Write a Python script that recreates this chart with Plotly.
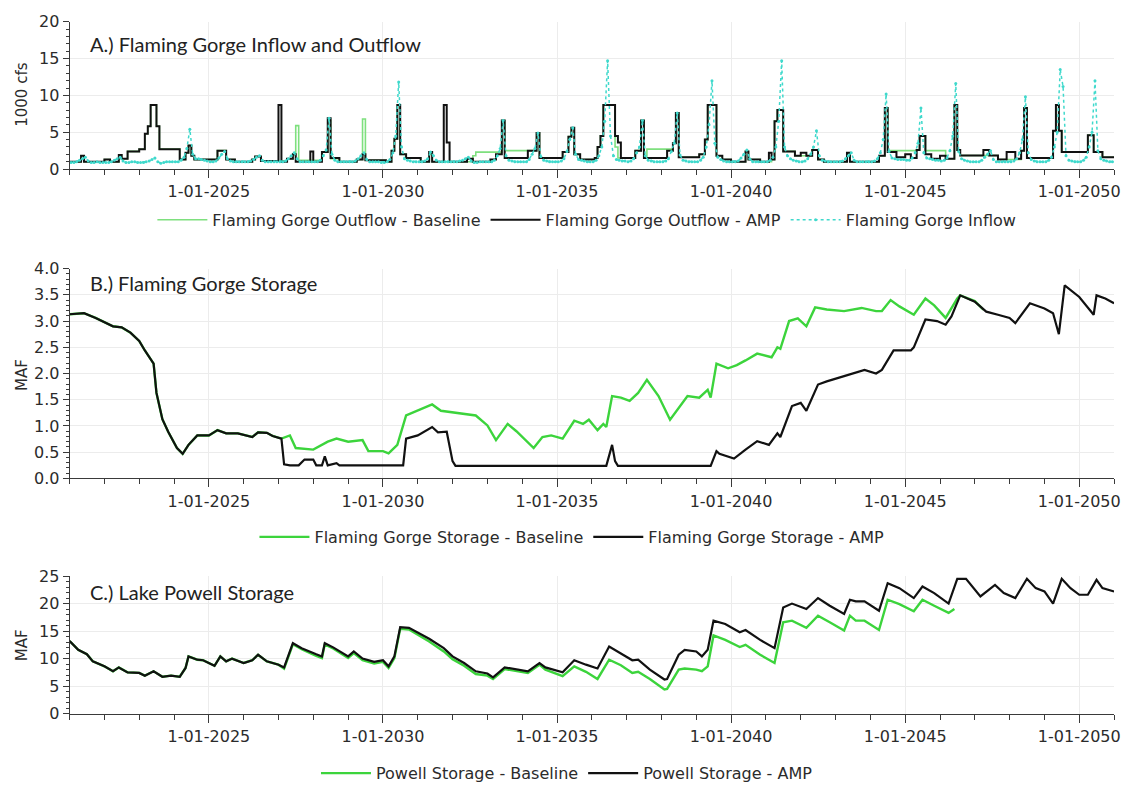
import plotly.graph_objects as go

# ---------------- Panel A data (1000 cfs) ----------------
amp_out_dates = ["2021-01","2021-05","2021-06","2022-01","2022-03","2022-06","2022-07","2022-09","2023-01","2023-03",
    "2023-04","2023-05","2023-07","2023-08","2024-03","2024-05","2024-06","2024-07","2024-08","2025-04",
    "2025-07","2025-10","2026-04","2026-05","2026-07","2027-01","2027-02","2027-04","2027-06","2027-07",
    "2027-12","2028-01","2028-04","2028-06","2028-07","2028-10","2029-04","2029-06","2029-07","2030-02",
    "2030-04","2030-05","2030-06","2030-07","2030-09","2031-02","2031-05","2031-06","2031-10","2031-11",
    "2031-12","2032-06","2032-08","2033-02","2033-04","2033-06","2033-07","2034-03","2034-06","2034-07",
    "2035-03","2035-05","2035-06","2035-07","2035-09","2036-02","2036-03","2036-04","2036-05","2036-09",
    "2036-10","2036-11","2037-04","2037-06","2037-07","2038-03","2038-05","2038-06","2038-07","2039-02",
    "2039-04","2039-05","2039-08","2039-10","2040-01","2040-06","2040-07","2040-11","2041-02","2041-03",
    "2041-04","2041-05","2041-07","2041-11","2042-01","2042-03","2042-05","2042-07","2042-09","2043-05",
    "2043-06","2044-04","2044-06","2044-07","2044-10","2045-01","2045-03","2045-05","2045-06","2045-08",
    "2045-10","2046-01","2046-03","2046-06","2046-07","2046-08","2047-04","2047-06","2047-09","2047-12",
    "2048-03","2048-05","2048-06","2048-07","2049-04","2049-05","2049-06","2049-07","2050-04","2050-06",
    "2050-09","2051-01"]
amp_out_vals = [1.0,1.8,1.0,1.3,1.0,1.9,1.4,2.4,2.7,4.8,
    5.8,8.7,5.8,2.7,1.3,2.2,3.2,1.8,1.3,2.5,
    1.3,1.0,1.3,1.7,1.1,8.7,1.0,1.4,2.0,1.0,
    2.4,1.0,2.3,6.9,1.5,1.0,1.3,2.0,1.2,1.0,
    2.5,4.1,8.7,2.0,1.5,1.0,2.3,1.0,8.7,3.6,
    1.0,1.4,1.0,1.3,2.0,6.6,1.5,2.5,4.9,1.5,
    2.3,4.4,5.6,2.0,1.3,1.5,3.0,4.5,8.7,4.5,
    3.6,1.5,2.5,6.6,1.5,2.5,3.5,7.6,1.6,2.0,
    4.0,8.7,1.8,1.3,1.0,2.4,1.3,1.0,2.2,1.3,
    6.5,8.0,2.4,1.8,2.2,1.8,2.6,1.3,1.0,2.2,
    1.0,1.8,8.3,2.3,1.6,2.0,1.5,2.6,4.5,2.0,
    1.4,1.8,1.4,8.7,2.6,1.85,2.6,1.85,1.3,2.3,
    1.4,2.5,8.3,1.5,5.2,8.7,5.2,2.3,4.6,2.3,
    1.6,1.6]

base_out_dates = ["2021-01","2021-05","2021-06","2022-01","2022-03","2022-06","2022-07","2022-09","2023-01","2023-03",
    "2023-04","2023-05","2023-07","2023-08","2024-03","2024-05","2024-06","2024-07","2024-08","2025-04",
    "2025-07","2025-10","2026-04","2026-05","2026-07","2027-04","2027-06","2027-07","2027-08","2028-04",
    "2028-06","2028-07","2028-10","2029-04","2029-06","2029-07","2030-02","2030-04","2030-05","2030-06",
    "2030-07","2030-09","2031-02","2031-05","2031-06","2032-08","2032-09","2033-04","2033-06","2033-07",
    "2034-03","2034-06","2034-07","2035-03","2035-05","2035-06","2035-07","2035-09","2036-02","2036-03",
    "2036-04","2036-05","2036-09","2036-10","2037-04","2037-06","2037-07","2037-08","2038-05","2038-06",
    "2038-07","2039-02","2039-04","2039-05","2039-08","2039-10","2040-01","2040-06","2040-07","2040-11",
    "2041-03","2041-04","2041-05","2041-07","2041-11","2042-05","2042-07","2042-09","2043-05","2043-06",
    "2044-04","2044-06","2044-07","2045-05","2045-06","2045-08","2046-03","2046-06","2046-07","2046-08",
    "2047-09","2048-05","2048-06","2048-07","2049-04","2049-05","2049-06","2049-07","2050-04","2050-06",
    "2050-09","2051-01"]
base_out_vals = [1.0,1.8,1.0,1.3,1.0,1.9,1.4,2.4,2.7,4.8,
    5.8,8.7,5.8,2.7,1.3,2.2,3.2,1.8,1.3,2.5,
    1.3,1.0,1.3,1.7,1.1,1.4,2.0,5.9,1.2,2.3,
    6.6,1.4,1.0,1.3,6.8,1.2,1.0,2.5,4.1,8.7,
    2.0,1.5,1.0,2.0,1.0,1.8,2.3,2.3,6.6,2.5,
    2.5,4.9,1.5,2.3,4.4,5.6,2.0,1.3,1.5,3.0,
    4.5,8.7,3.0,1.5,2.5,6.6,1.5,2.7,3.5,7.6,
    1.6,2.0,4.0,8.7,1.8,1.3,1.0,2.4,1.3,1.0,
    1.3,6.5,8.0,2.4,1.8,2.6,1.3,1.0,2.2,1.0,
    1.8,8.3,2.5,2.6,4.5,2.5,1.4,8.7,2.6,1.85,
    1.3,2.5,8.3,1.5,5.2,8.7,5.2,2.3,4.6,2.3,
    1.6,1.6]

inflow_years = [2021,2022,2023,2024,2025,2026,2027,2028,2029,2030,
                2031,2032,2033,2034,2035,2036,2037,2038,2039,2040,
                2041,2042,2043,2044,2045,2046,2047,2048,2049,2050]
inflow_monthly = [
    [0.9,0.9,1.0,1.2,1.4,1.6,1.1,0.9,0.9,1.0,0.9,0.9],
    [0.9,0.9,1.0,1.2,1.4,1.6,1.1,0.9,0.9,1.0,1.0,0.9],
    [0.9,0.9,1.0,1.1,1.3,1.5,1.0,0.8,0.9,1.0,1.0,1.0],
    [1.0,1.0,1.2,1.6,2.8,5.4,2.0,1.4,1.4,1.3,1.2,1.1],
    [1.0,1.0,1.1,1.5,2.0,2.4,1.4,1.1,1.0,1.0,1.0,1.0],
    [1.0,1.0,1.1,1.3,1.6,1.8,1.2,1.0,1.0,1.0,1.0,1.0],
    [1.0,1.0,1.1,1.4,1.8,2.2,1.4,1.0,1.0,1.0,1.0,1.0],
    [1.0,1.0,1.2,1.8,2.6,6.9,2.0,1.2,1.0,1.0,1.0,1.0],
    [1.0,1.0,1.1,1.4,1.8,2.2,1.3,1.0,1.0,1.0,1.0,0.9],
    [0.9,1.0,1.3,2.2,4.5,11.8,3.0,1.4,1.2,1.1,1.0,1.0],
    [1.0,1.0,1.1,1.4,2.3,1.8,1.2,1.0,1.0,1.0,1.0,1.0],
    [1.0,1.0,1.1,1.2,1.4,1.6,1.1,0.9,0.9,1.0,1.0,1.0],
    [1.0,1.0,1.2,1.8,2.8,6.6,1.8,1.2,1.1,1.0,1.0,1.0],
    [1.0,1.0,1.3,2.0,2.8,4.9,1.7,1.2,1.1,1.0,1.0,1.0],
    [1.0,1.1,1.4,2.4,4.0,5.6,2.0,1.3,1.2,1.1,1.0,1.0],
    [1.0,1.2,1.8,3.0,6.5,14.7,4.5,1.8,1.3,1.2,1.1,1.1],
    [1.0,1.1,1.4,2.2,3.0,6.6,1.8,1.2,1.1,1.0,1.0,1.0],
    [1.0,1.1,1.4,2.4,3.5,7.6,1.9,1.2,1.1,1.0,1.0,1.0],
    [1.0,1.2,1.6,3.0,6.0,12.0,3.5,1.6,1.3,1.1,1.0,1.0],
    [1.0,1.0,1.1,1.5,2.0,2.6,1.4,1.0,1.0,1.0,1.0,1.0],
    [1.0,1.2,1.6,3.0,6.5,14.7,3.0,1.8,1.4,1.2,1.1,1.0],
    [1.0,1.1,1.4,2.0,3.0,5.2,1.8,1.2,1.1,1.0,1.0,1.0],
    [1.0,1.0,1.1,1.4,1.8,2.2,1.2,1.0,1.0,1.0,1.0,1.0],
    [1.0,1.1,1.4,2.2,4.0,10.2,2.4,1.5,1.4,1.3,1.3,1.3],
    [1.2,1.2,1.5,2.2,3.5,8.3,2.2,1.5,1.4,1.3,1.2,1.2],
    [1.1,1.2,1.5,2.5,4.5,11.6,2.4,1.4,1.2,1.1,1.0,1.0],
    [1.0,1.0,1.2,1.6,2.0,2.5,1.3,1.0,1.0,1.0,1.0,1.0],
    [1.0,1.1,1.4,2.2,4.0,9.8,2.2,1.3,1.1,1.0,1.0,1.0],
    [1.0,1.2,1.6,3.0,5.0,13.5,11.2,1.8,1.2,1.1,1.0,1.0],
    [1.0,1.2,1.6,3.0,5.0,12.0,2.5,1.4,1.2,1.1,1.0,1.0],
]

# ---------------- Panel B data (MAF) ----------------
fg_amp_dates = ["2021-01","2021-06","2021-10","2022-02","2022-04","2022-07","2022-10","2023-01","2023-03","2023-06",
    "2023-07","2023-09","2023-11","2024-02","2024-04","2024-06","2024-09","2025-01","2025-04","2025-07",
    "2025-11","2026-04","2026-06","2026-09","2026-11","2027-02","2027-03","2027-05","2027-08","2027-10",
    "2028-01","2028-02","2028-04","2028-05","2028-06","2028-09","2028-10","2030-08","2030-09","2031-01",
    "2031-06","2031-08","2031-11","2032-01","2032-02","2036-06","2036-08","2036-09","2036-10","2039-06",
    "2039-08","2039-09","2040-02","2040-06","2040-10","2041-02","2041-05","2041-06","2041-10","2042-01",
    "2042-03","2042-07","2042-10","2043-04","2043-11","2044-03","2044-05","2044-09","2045-03","2045-04",
    "2045-08","2045-12","2046-03","2046-05","2046-08","2047-01","2047-05","2047-09","2048-01","2048-03",
    "2048-08","2049-01","2049-04","2049-06","2049-08","2050-01","2050-06","2050-07","2050-10","2051-01"]
fg_amp_vals = [3.13,3.15,3.06,2.96,2.90,2.88,2.78,2.62,2.44,2.19,
    1.63,1.13,0.89,0.58,0.47,0.64,0.82,0.82,0.92,0.86,
    0.86,0.79,0.88,0.87,0.81,0.76,0.27,0.25,0.25,0.36,
    0.36,0.25,0.25,0.42,0.25,0.29,0.25,0.25,0.76,0.82,
    0.98,0.88,0.89,0.33,0.24,0.24,0.64,0.33,0.24,0.24,
    0.52,0.47,0.38,0.55,0.71,0.64,0.86,0.79,1.38,1.44,
    1.29,1.79,1.85,1.95,2.07,2.00,2.07,2.44,2.44,2.50,
    3.03,3.00,2.93,3.09,3.49,3.37,3.18,3.12,3.06,2.96,
    3.34,3.24,3.15,2.75,3.68,3.46,3.12,3.49,3.43,3.34]

fg_base_dates = ["2021-01","2021-06","2021-10","2022-02","2022-04","2022-07","2022-10","2023-01","2023-03","2023-06",
    "2023-07","2023-09","2023-11","2024-02","2024-04","2024-06","2024-09","2025-01","2025-04","2025-07",
    "2025-11","2026-04","2026-06","2026-09","2026-11","2027-02","2027-05","2027-07","2028-01","2028-06",
    "2028-09","2029-01","2029-06","2029-08","2030-01","2030-03","2030-06","2030-09","2031-01","2031-06",
    "2031-09","2032-03","2032-09","2033-01","2033-04","2033-08","2033-11","2034-05","2034-08","2034-11",
    "2035-03","2035-07","2035-10","2035-12","2036-03","2036-05","2036-06","2036-08","2036-11","2037-02",
    "2037-05","2037-08","2037-12","2038-04","2038-07","2038-10","2039-02","2039-05","2039-06","2039-08",
    "2039-12","2040-03","2040-06","2040-10","2041-03","2041-05","2041-06","2041-09","2041-12","2042-03",
    "2042-06","2042-10","2043-04","2043-10","2044-03","2044-05","2044-08","2044-11","2045-04","2045-08",
    "2045-11","2046-03","2046-07","2046-08","2047-01","2047-04"]
fg_base_vals = [3.13,3.15,3.06,2.96,2.90,2.88,2.78,2.62,2.44,2.19,
    1.63,1.13,0.89,0.58,0.47,0.64,0.82,0.82,0.92,0.86,
    0.86,0.79,0.88,0.87,0.81,0.76,0.82,0.58,0.55,0.70,
    0.76,0.70,0.73,0.52,0.52,0.48,0.64,1.20,1.29,1.41,
    1.29,1.25,1.20,1.01,0.73,1.04,0.90,0.58,0.79,0.82,
    0.76,1.10,1.04,1.12,0.92,1.04,0.98,1.57,1.54,1.48,
    1.63,1.88,1.57,1.12,1.35,1.57,1.54,1.69,1.54,2.19,
    2.10,2.16,2.25,2.38,2.31,2.50,2.47,3.00,3.05,2.90,
    3.26,3.22,3.19,3.25,3.19,3.19,3.40,3.28,3.12,3.43,
    3.30,3.06,3.43,3.49,3.38,3.22]

# ---------------- Panel C data (MAF) ----------------
pw_amp_dates = ["2021-01","2021-04","2021-07","2021-09","2022-01","2022-04","2022-06","2022-09","2023-01","2023-03",
    "2023-06","2023-07","2023-09","2023-12","2024-03","2024-05","2024-06","2024-09","2024-11","2025-03",
    "2025-05","2025-07","2025-09","2026-01","2026-04","2026-06","2026-09","2027-01","2027-03","2027-06",
    "2027-09","2028-02","2028-04","2028-05","2028-08","2029-01","2029-03","2029-06","2029-10","2030-01",
    "2030-03","2030-05","2030-07","2030-10","2031-02","2031-05","2031-10","2032-01","2032-05","2032-09",
    "2033-01","2033-03","2033-07","2033-11","2034-03","2034-07","2034-09","2035-03","2035-07","2035-11",
    "2036-03","2036-07","2036-11","2037-03","2037-05","2037-09","2038-02","2038-03","2038-07","2038-09",
    "2039-01","2039-03","2039-05","2039-07","2039-11","2040-04","2040-06","2040-11","2041-04","2041-07",
    "2041-10","2042-03","2042-07","2042-11","2043-04","2043-06","2043-08","2043-11","2044-04","2044-07",
    "2044-11","2045-04","2045-07","2045-11","2046-04","2046-07","2046-10","2047-03","2047-08","2047-11",
    "2048-03","2048-07","2048-10","2049-01","2049-04","2049-07","2049-10","2050-01","2050-04","2050-07",
    "2050-09","2051-01"]
pw_amp_vals = [13.2,11.6,10.8,9.5,8.6,7.7,8.4,7.5,7.4,6.9,
    7.7,7.4,6.7,6.9,6.7,8.3,10.4,9.8,9.7,8.7,
    10.4,9.5,10.0,9.2,9.7,10.7,9.5,8.9,8.4,12.8,
    11.9,10.8,10.4,12.8,12.0,10.4,11.3,10.0,9.4,9.7,
    8.6,10.4,15.7,15.6,14.5,13.6,11.9,10.4,9.2,7.7,
    7.3,6.6,8.4,8.0,7.7,9.2,8.4,7.5,9.7,8.9,
    8.2,12.2,11.0,9.7,9.8,8.0,6.2,6.3,10.7,11.6,
    11.3,10.4,11.6,16.9,16.3,14.8,15.2,13.4,11.9,19.3,
    20.0,19.0,21.0,19.6,18.1,20.7,20.4,20.4,18.7,23.7,
    22.8,21.0,23.1,21.9,20.0,24.5,24.5,21.3,23.4,21.9,
    21.0,24.5,22.8,22.2,20.0,24.5,22.8,21.6,21.6,24.3,
    22.8,22.2]

pw_base_dates = ["2021-01","2021-04","2021-07","2021-09","2022-01","2022-04","2022-06","2022-09","2023-01","2023-03",
    "2023-06","2023-07","2023-09","2023-12","2024-03","2024-05","2024-06","2024-09","2024-11","2025-03",
    "2025-05","2025-07","2025-09","2026-01","2026-04","2026-06","2026-09","2027-01","2027-03","2027-06",
    "2027-09","2028-02","2028-04","2028-05","2028-08","2029-01","2029-03","2029-06","2029-10","2030-01",
    "2030-03","2030-05","2030-07","2030-10","2031-02","2031-05","2031-10","2032-01","2032-05","2032-09",
    "2033-01","2033-03","2033-07","2033-11","2034-03","2034-07","2034-09","2035-03","2035-07","2035-11",
    "2036-03","2036-07","2036-11","2037-03","2037-05","2037-09","2038-02","2038-03","2038-07","2038-09",
    "2039-01","2039-03","2039-05","2039-07","2039-11","2040-04","2040-06","2040-11","2041-04","2041-07",
    "2041-10","2042-03","2042-07","2042-11","2043-04","2043-06","2043-08","2043-11","2044-04","2044-07",
    "2044-11","2045-04","2045-07","2045-11","2046-04","2046-06"]
pw_base_vals = [13.2,11.6,10.8,9.5,8.6,7.7,8.4,7.5,7.4,6.9,
    7.7,7.4,6.7,6.9,6.7,8.3,10.4,9.8,9.7,8.7,
    10.4,9.5,10.0,9.2,9.7,10.7,9.5,8.9,8.2,12.6,
    11.7,10.5,10.1,12.6,11.8,10.1,11.0,9.7,9.1,9.4,
    8.3,10.1,15.4,15.3,14.1,13.1,11.3,9.9,8.7,7.2,
    6.9,6.3,8.1,7.7,7.4,8.9,8.0,6.8,8.6,7.6,
    6.3,9.8,8.8,7.4,7.6,6.3,4.4,4.5,8.0,8.2,
    8.0,7.7,8.6,14.2,13.4,12.1,12.5,10.7,9.2,16.6,
    16.9,15.6,17.8,16.6,15.1,17.8,16.9,16.9,15.2,20.7,
    19.9,18.6,20.7,19.6,18.3,19.0]

# ---------------- styling ----------------
W, H = 1132, 791
TXT = "#2b2b2b"
AX = "#3a3a3a"
GRID = "#ececec"
TICKFONT = dict(family="DejaVu Sans", size=16, color=TXT)
LEGFONT = dict(family="DejaVu Sans", size=16, color=TXT)

inflow_x = []
inflow_y = []
for yr, row in zip(inflow_years, inflow_monthly):
    for m, v in enumerate(row):
        inflow_x.append(f"{yr}-{m+1:02d}-15")
        inflow_y.append(v)

fig = go.Figure()

# Panel A
fig.add_trace(go.Scatter(x=base_out_dates, y=base_out_vals, mode="lines", line_shape="hv",
    line=dict(color="#7ee07e", width=1.6), name="Flaming Gorge Outflow - Baseline",
    xaxis="x", yaxis="y", legend="legend"))
fig.add_trace(go.Scatter(x=amp_out_dates, y=amp_out_vals, mode="lines", line_shape="hv",
    line=dict(color="#111111", width=2), name="Flaming Gorge Outflow - AMP",
    xaxis="x", yaxis="y", legend="legend"))
fig.add_trace(go.Scatter(x=inflow_x, y=inflow_y, mode="lines+markers",
    line=dict(color="#3fd9cc", width=1.5, dash="dot"), marker=dict(size=3, color="#3fd9cc"),
    name="Flaming Gorge Inflow", xaxis="x", yaxis="y", legend="legend"))

# Panel B
fig.add_trace(go.Scatter(x=fg_base_dates, y=fg_base_vals, mode="lines",
    line=dict(color="#3cd43c", width=2.4), name="Flaming Gorge Storage - Baseline",
    xaxis="x2", yaxis="y2", legend="legend2"))
fig.add_trace(go.Scatter(x=fg_amp_dates, y=fg_amp_vals, mode="lines",
    line=dict(color="#111111", width=2.2), name="Flaming Gorge Storage - AMP",
    xaxis="x2", yaxis="y2", legend="legend2"))

# Panel C
fig.add_trace(go.Scatter(x=pw_base_dates, y=pw_base_vals, mode="lines",
    line=dict(color="#3cd43c", width=2.4), name="Powell Storage - Baseline",
    xaxis="x3", yaxis="y3", legend="legend3"))
fig.add_trace(go.Scatter(x=pw_amp_dates, y=pw_amp_vals, mode="lines",
    line=dict(color="#111111", width=2.2), name="Powell Storage - AMP",
    xaxis="x3", yaxis="y3", legend="legend3"))

xdom = [70 / W, 1120 / W]

def ydom(top_px, bot_px):
    return [1 - bot_px / H, 1 - top_px / H]

def xaxis_def(anchor):
    return dict(domain=xdom, anchor=anchor, type="date",
                range=["2021-01-01", "2051-01-01"],
                tick0="2025-01-01", dtick="M60", tickformat="%-m-%d-%Y",
                ticks="outside", ticklen=8, tickcolor=AX, tickwidth=1,
                minor=dict(dtick="M12", ticks="outside", ticklen=5, tickcolor=AX, showgrid=False),
                showline=True, linecolor=AX, linewidth=1,
                showgrid=True, gridcolor=GRID, gridwidth=1,
                tickfont=TICKFONT, zeroline=False)

def yaxis_def(anchor, rng, dtick, minor_dtick, dom, fmt=None):
    d = dict(domain=dom, anchor=anchor, range=rng, dtick=dtick, tick0=0,
             ticks="outside", ticklen=6, tickcolor=AX,
             minor=dict(dtick=minor_dtick, ticks="outside", ticklen=3, tickcolor=AX, showgrid=False),
             showline=True, linecolor=AX, linewidth=1,
             showgrid=True, gridcolor=GRID, gridwidth=1,
             tickfont=TICKFONT, zeroline=False)
    if fmt:
        d["tickformat"] = fmt
    return d

fig.update_layout(
    width=W, height=H, autosize=False,
    margin=dict(l=0, r=0, t=0, b=0),
    paper_bgcolor="white", plot_bgcolor="white",
    xaxis=xaxis_def("y"),
    yaxis=yaxis_def("x", [0, 20], 5, 1, ydom(13, 164)),
    xaxis2=xaxis_def("y2"),
    yaxis2=yaxis_def("x2", [0, 4], 0.5, 0.1, ydom(266, 481), ".1f"),
    xaxis3=xaxis_def("y3"),
    yaxis3=yaxis_def("x3", [0, 25], 5, 1, ydom(581, 722)),
    legend=dict(orientation="h", x=590 / W, y=1 - 216 / H, xanchor="center", yanchor="middle",
                font=LEGFONT, bgcolor="rgba(0,0,0,0)", itemwidth=50),
    legend2=dict(orientation="h", x=575 / W, y=1 - 541 / H, xanchor="center", yanchor="middle",
                 font=LEGFONT, bgcolor="rgba(0,0,0,0)", itemwidth=50),
    legend3=dict(orientation="h", x=570 / W, y=-0.012, xanchor="center", yanchor="bottom",
                 font=LEGFONT, bgcolor="rgba(0,0,0,0)", itemwidth=50),
    showlegend=True,
)

TITLEFONT = dict(family="Lato", size=20, color="#222222")
for txt, ypx in [("A.) Flaming Gorge Inflow and Outflow", 36),
                 ("B.) Flaming Gorge Storage", 281),
                 ("C.) Lake Powell Storage", 597)]:
    fig.add_annotation(text=txt, xref="paper", yref="paper", x=88 / W, y=1 - ypx / H,
                       xanchor="left", yanchor="middle", showarrow=False, font=TITLEFONT)

AXTITLE = dict(family="DejaVu Sans", size=15, color=TXT)
for txt, ypx in [("1000 cfs", 88), ("MAF", 375), ("MAF", 652)]:
    fig.add_annotation(text=txt, xref="paper", yref="paper", x=22 / W, y=1 - ypx / H,
                       xanchor="center", yanchor="middle", textangle=-90, showarrow=False, font=AXTITLE)

fig.write_html("out.html", config={"displayModeBar": False},
               post_script="document.body.style.margin='0';")
